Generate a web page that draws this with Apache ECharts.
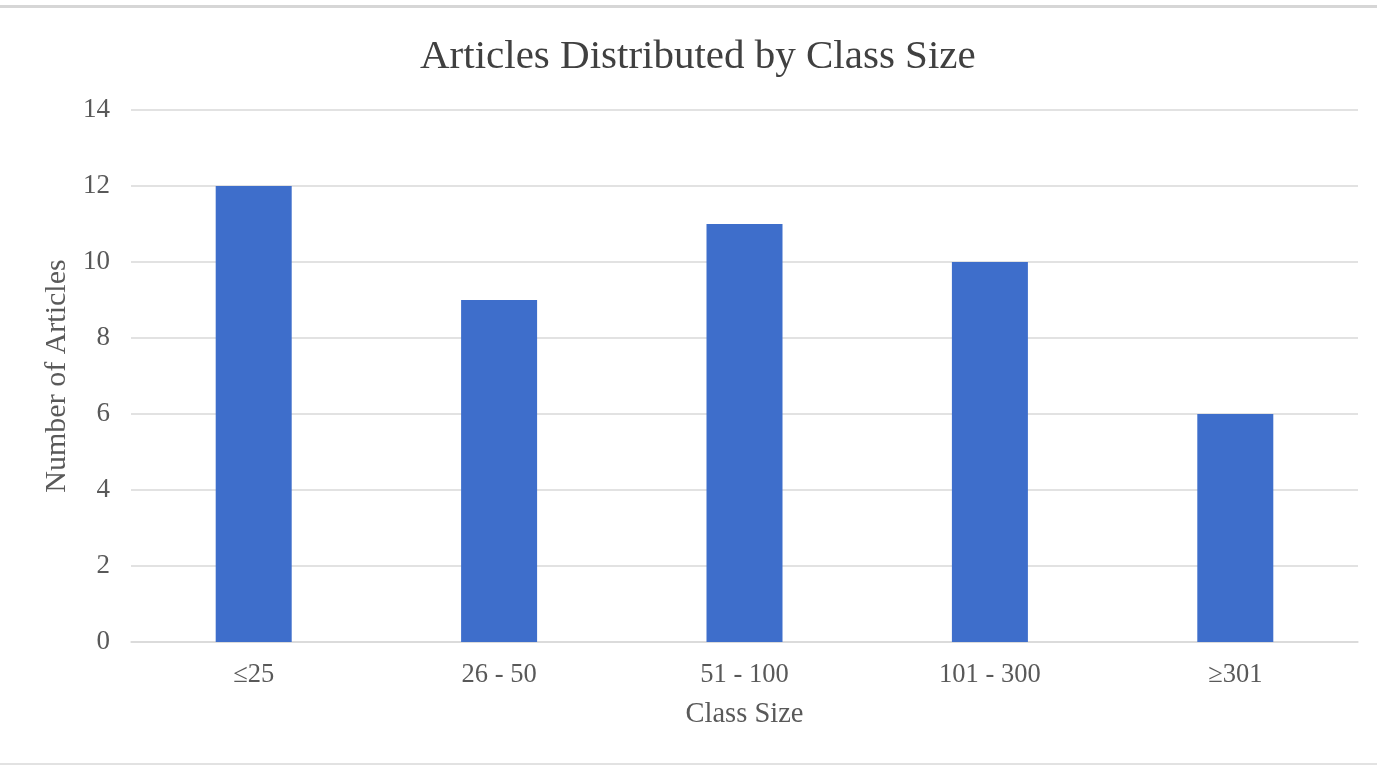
<!DOCTYPE html>
<html>
<head>
<meta charset="utf-8">
<style>
  html, body { margin: 0; padding: 0; background: #ffffff; }
  #chart { width: 1377px; height: 766px; }
</style>
<script src="https://cdn.jsdelivr.net/npm/echarts@6/dist/echarts.min.js"></script>
</head>
<body>
<div id="chart"></div>
<script>
// Class-size buckets and the number of articles in each
const categories = ['\u226425', '26 - 50', '51 - 100', '101 - 300', '\u2265301'];
const articleCounts = [12, 9, 11, 10, 6];
const yTicks = [0, 2, 4, 6, 8, 10, 12, 14];

const serif = '"Liberation Serif", "DejaVu Serif", serif';
const chart = echarts.init(document.getElementById('chart'), null, { renderer: 'canvas' });

chart.setOption({
  animation: false,
  backgroundColor: '#ffffff',
  title: {
    text: 'Articles Distributed by Class Size',
    left: 415,
    top: 32,
    textStyle: { fontFamily: serif, fontSize: 41, fontWeight: 'normal', color: '#404040' }
  },
  grid: { left: 131, right: 19, top: 110, bottom: 124, containLabel: false },
  xAxis: {
    type: 'category',
    data: categories,
    name: 'Class Size',
    nameLocation: 'middle',
    nameGap: 58,
    nameTextStyle: { fontFamily: serif, fontSize: 28.5, color: '#595959' },
    axisLine: { show: true, lineStyle: { color: '#d9d9d9', width: 1.5 } },
    axisTick: { show: false },
    axisLabel: { fontFamily: serif, fontSize: 26.5, color: '#595959', margin: 20 }
  },
  yAxis: {
    type: 'value',
    min: yTicks[0],
    max: yTicks[yTicks.length - 1],
    interval: yTicks[1] - yTicks[0],
    name: 'Number of Articles',
    nameLocation: 'middle',
    nameGap: 53,
    nameRotate: 90,
    nameTextStyle: { fontFamily: serif, fontSize: 30, color: '#595959' },
    axisLine: { show: false },
    axisTick: { show: false },
    axisLabel: { fontFamily: serif, fontSize: 27, color: '#595959', margin: 21 },
    splitLine: { lineStyle: { color: '#d9d9d9', width: 1.5 } }
  },
  series: [{
    type: 'bar',
    data: articleCounts,
    barWidth: 76,
    itemStyle: { color: '#3e6ecb' }
  }],
  graphic: [
    { type: 'rect', shape: { x: 0, y: 5, width: 1377, height: 3 }, style: { fill: '#d6d6d6' }, silent: true },
    { type: 'rect', shape: { x: 0, y: 763, width: 1377, height: 2 }, style: { fill: '#e2e2e2' }, silent: true }
  ]
});
</script>
</body>
</html>
